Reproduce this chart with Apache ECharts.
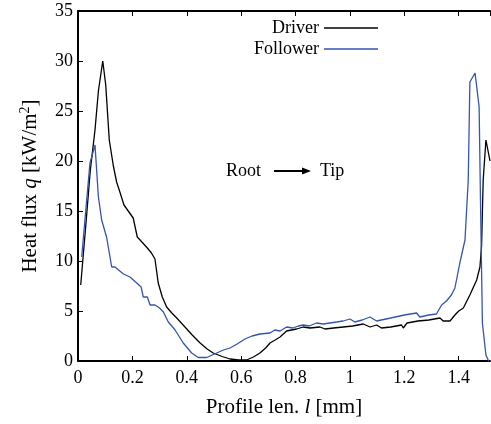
<!DOCTYPE html>
<html><head><meta charset="utf-8">
<script src="https://cdn.jsdelivr.net/npm/echarts@6/dist/echarts.min.js"></script>
<style>html,body{margin:0;padding:0;background:#fff}#c{width:491px;height:424px}</style>
</head><body><div id="c"></div>
<script>
var xTicks = ['0','0.2','0.4','0.6','0.8','1','1.2','1.4'];
var yTicks = [0,5,10,15,20,25,30,35];
var driverL = [0.01,0.03,0.045,0.0625,0.075,0.091,0.102,0.115,0.13,0.142,0.154,0.169,0.19,0.203,0.218,0.235,0.255,0.27,0.283,0.295,0.31,0.326,0.345,0.363,0.39,0.42,0.449,0.475,0.497,0.53,0.559,0.59,0.62,0.645,0.669,0.69,0.706,0.725,0.743,0.767,0.785,0.804,0.828,0.853,0.89,0.908,0.94,0.975,1.01,1.049,1.074,1.098,1.116,1.15,1.19,1.196,1.21,1.25,1.29,1.331,1.343,1.368,1.386,1.40,1.417,1.441,1.466,1.478,1.484,1.49,1.50,1.515];
var driverQ = [7.6,14,19,23.1,27.0,30.0,27.6,22.1,19.5,17.9,16.9,15.6,14.8,14.3,12.4,11.9,11.3,10.8,10.2,7.8,6.4,5.4,4.8,4.3,3.5,2.6,1.8,1.2,0.8,0.45,0.2,0.1,0.1,0.4,0.8,1.3,1.8,2.1,2.4,3.0,3.1,3.2,3.4,3.3,3.4,3.2,3.3,3.4,3.5,3.7,3.4,3.6,3.3,3.4,3.6,3.3,3.8,4.0,4.1,4.3,4.0,4.0,4.6,5.0,5.3,6.6,8.1,9.4,11.5,18.1,22.1,20.0];
var followerL = [0.0136,0.03,0.044,0.0625,0.075,0.087,0.105,0.124,0.136,0.142,0.167,0.191,0.216,0.232,0.24,0.255,0.265,0.283,0.30,0.314,0.332,0.357,0.387,0.418,0.442,0.473,0.51,0.535,0.559,0.585,0.614,0.64,0.669,0.706,0.724,0.743,0.767,0.79,0.81,0.828,0.85,0.877,0.902,0.926,0.951,0.975,1.0,1.018,1.045,1.074,1.098,1.15,1.20,1.245,1.257,1.29,1.318,1.337,1.355,1.373,1.386,1.404,1.423,1.435,1.441,1.46,1.475,1.48,1.487,1.50,1.51];
var followerQ = [10.4,15.5,19.8,21.6,16.4,14.1,12.4,9.4,9.4,9.3,8.7,8.4,7.8,7.4,6.4,6.4,5.6,5.6,5.3,4.9,3.9,3.1,1.8,0.8,0.35,0.35,0.8,1.1,1.3,1.7,2.2,2.5,2.7,2.8,3.1,3.0,3.4,3.3,3.5,3.6,3.5,3.8,3.7,3.8,3.9,4.0,4.2,3.9,4.1,4.4,4.0,4.3,4.6,4.8,4.4,4.6,4.7,5.6,6.0,6.6,7.3,9.8,12.1,18.1,27.9,28.8,25.4,16.1,3.8,0.6,0.0];

function pairs(a,b){return a.map(function(v,i){return [v,b[i]];});}
var F = '"Liberation Serif", "Times New Roman", serif';
var chart = echarts.init(document.getElementById('c'), null, {renderer:'canvas'});
var tickStyle = {show:true, inside:true, length:5, lineStyle:{color:'#000', width:1}};
var legendBase = {right:108, align:'right', icon:'rect', itemWidth:54, itemHeight:1.3,
  textStyle:{fontFamily:F, fontSize:18, color:'#000'}};
chart.setOption({
  animation:false,
  backgroundColor:'#fff',
  grid:{left:78, top:11, right:1, bottom:63},
  legend:[
    Object.assign({data:['Driver'], top:14}, legendBase),
    Object.assign({data:['Follower'], top:35}, legendBase)
  ],
  xAxis:[
    {type:'value', position:'bottom', min:0, max:1.515, interval:0.2,
     axisLine:{show:true, onZero:false, lineStyle:{color:'#000', width:2}},
     axisTick:tickStyle, splitLine:{show:false},
     axisLabel:{showMaxLabel:false, margin:8, fontFamily:F, fontSize:18, color:'#000',
       formatter:function(v){var s=String(Math.round(v*10)/10); return xTicks.indexOf(s)>=0?s:'';}},
     name:'{n|Profile len. }{i|l}{n| [mm]}', nameLocation:'middle', nameGap:36,
     nameTextStyle:{rich:{n:{fontFamily:F, fontSize:21, color:'#000'}, i:{fontFamily:F, fontSize:21, fontStyle:'italic', color:'#000'}}}
    },
    {type:'value', position:'top', min:0, max:1.515, interval:0.2,
     axisLine:{show:true, onZero:false, lineStyle:{color:'#000', width:2}},
     axisTick:tickStyle, axisLabel:{show:false}, splitLine:{show:false}}
  ],
  yAxis:[
    {type:'value', min:0, max:35, interval:5,
     axisLine:{show:true, onZero:false, lineStyle:{color:'#000', width:2}},
     axisTick:tickStyle, splitLine:{show:false},
     axisLabel:{margin:5, fontFamily:F, fontSize:18, color:'#000',
       formatter:function(v){return yTicks.indexOf(v)>=0?String(v):'';}},
     name:'{n|Heat flux }{i|q}{n| [kW/m}{s|2}{n|]}', nameLocation:'middle', nameGap:36,
     nameTextStyle:{rich:{n:{fontFamily:F, fontSize:21, color:'#000'}, i:{fontFamily:F, fontSize:21, fontStyle:'italic', color:'#000'}, s:{fontFamily:F, fontSize:14, color:'#000', padding:[0,0,10,0]}}}
    }
  ],
  graphic:[
    {type:'text', left:226, top:162, style:{text:'Root', font:'18px "Liberation Serif"', fill:'#000'}},
    {type:'line', shape:{x1:274, y1:171, x2:304, y2:171}, style:{stroke:'#000', lineWidth:2}},
    {type:'polygon', shape:{points:[[302,167.5],[311,171],[302,174.5]]}, style:{fill:'#000'}},
    {type:'text', left:320, top:162, style:{text:'Tip', font:'18px "Liberation Serif"', fill:'#000'}}
  ],
  series:[
    {name:'Driver', type:'line', data:pairs(driverL, driverQ), symbol:'none', clip:true,
     lineStyle:{color:'#000', width:1.3}, itemStyle:{color:'#000'}},
    {name:'Follower', type:'line', data:pairs(followerL, followerQ), symbol:'none', clip:true,
     lineStyle:{color:'#3355b0', width:1.3}, itemStyle:{color:'#3355b0'}}
  ]
});
</script></body></html>
